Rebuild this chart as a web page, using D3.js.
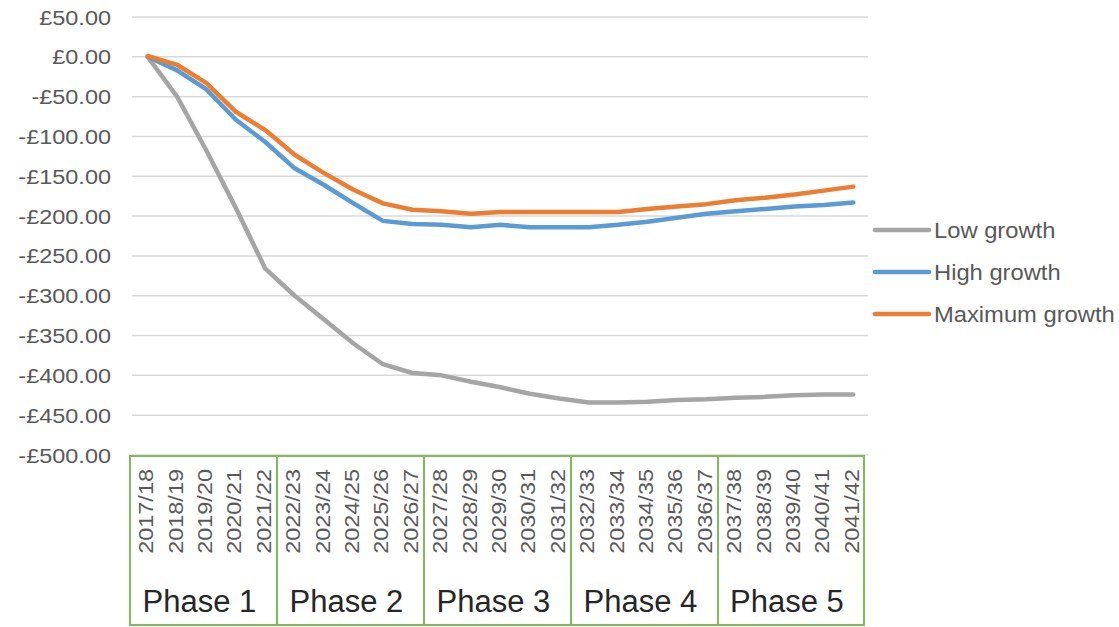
<!DOCTYPE html>
<html>
<head>
<meta charset="utf-8">
<script src="https://cdn.jsdelivr.net/npm/d3@7"></script>
<style>
  body { margin: 0; background: #fff; }
  svg { display: block; font-family: "Liberation Sans", Arial, sans-serif; }
</style>
</head>
<body>
<svg id="chart" width="1119" height="627"></svg>
<script>
var years = ["2017/18","2018/19","2019/20","2020/21","2021/22","2022/23","2023/24","2024/25","2025/26","2026/27",
  "2027/28","2028/29","2029/30","2030/31","2031/32","2032/33","2033/34","2034/35","2035/36","2036/37",
  "2037/38","2038/39","2039/40","2040/41","2041/42"];

var phases = ["Phase 1","Phase 2","Phase 3","Phase 4","Phase 5"];

var lowGrowth = [0, -50, -118, -190, -266, -300, -330, -360, -386, -397,
  -400, -408, -415, -423, -429, -434, -434, -433, -431, -430,
  -428, -427, -425, -424, -424];

var highGrowth = [0, -17, -41, -79, -107, -140, -161, -184, -206, -210,
  -211, -214, -211, -214, -214, -214, -211, -207, -202, -197,
  -194, -191, -188, -186, -183];

var maxGrowth = [1, -10, -33, -69, -92, -123, -146, -167, -184, -192,
  -194, -197, -195, -195, -195, -195, -195, -191, -188, -185,
  -180, -177, -173, -168, -163];

var yTicks = [50, 0, -50, -100, -150, -200, -250, -300, -350, -400, -450, -500];

var seriesNames = ["Low growth", "High growth", "Maximum growth"];
var seriesColors = ["#a5a5a5", "#5b9bd5", "#ed7d31"];

var series = [lowGrowth, highGrowth, maxGrowth];

var stretch = 1.14;   // labels in the original are drawn wide

var svg = d3.select('#chart');

var x = d3.scaleBand().domain(years).range([133, 868]);
var y = d3.scaleLinear().domain([-500, 50]).range([455, 17]);

var fmt = function( v ) {
  var s = '£' + Math.abs(v).toFixed(2);
  return v < 0 ? '-' + s : s;
};

// gridlines
svg.append('g').selectAll('line')
  .data(yTicks)
  .enter()
    .append('line')
    .attr('x1', 132).attr('x2', 868)
    .attr('y1', function(d) { return y(d); })
    .attr('y2', function(d) { return y(d); })
    .attr('stroke', '#d9d9d9')
    .attr('stroke-width', 1.5);

// y labels
svg.append('g').selectAll('text')
  .data(yTicks)
  .enter()
    .append('text')
    .attr('transform', function(d) { return 'translate(111,' + (y(d) + 7.5) + ') scale(' + stretch + ',1)'; })
    .attr('text-anchor', 'end')
    .attr('font-size', 20.6)
    .attr('fill', '#595959')
    .text(fmt);

// phase boxes
var boxEdge = function( i ) { return x(years[i * 5]) - 3; };
var boxRight = function( i ) { return i === 4 ? x.range()[1] - 4 : boxEdge(i + 1); };

var boxes = svg.append('g');
boxes.selectAll('rect')
  .data(phases)
  .enter()
    .append('rect')
    .attr('x', function(d, i) { return boxEdge(i); })
    .attr('y', 456)
    .attr('width', function(d, i) { return boxRight(i) - boxEdge(i); })
    .attr('height', 169)
    .attr('fill', 'none')
    .attr('stroke', '#7dbb5b')
    .attr('stroke-width', 2);

boxes.selectAll('text')
  .data(phases)
  .enter()
    .append('text')
    .attr('x', function(d, i) { return (boxEdge(i) + boxRight(i)) / 2 - 4; })
    .attr('y', 612)
    .attr('text-anchor', 'middle')
    .attr('font-size', 31)
    .attr('fill', '#262626')
    .text(function(d) { return d; });

// category labels
svg.append('g').selectAll('text')
  .data(years)
  .enter()
    .append('text')
    .attr('transform', function(d) {
      return 'translate(' + (x(d) + x.bandwidth() / 2 + 5.5) + ',469) rotate(-90) scale(' + stretch + ',1)';
    })
    .attr('text-anchor', 'end')
    .attr('font-size', 20.6)
    .attr('fill', '#595959')
    .text(function(d) { return d; });

// series lines
var line = d3.line()
  .x(function(d, i) { return x(years[i]) + x.bandwidth() / 2; })
  .y(function(d) { return y(d); });

svg.append('g').selectAll('path')
  .data(series)
  .enter()
    .append('path')
    .attr('d', line)
    .attr('fill', 'none')
    .attr('stroke', function(d, i) { return seriesColors[i]; })
    .attr('stroke-width', 4.5)
    .attr('stroke-linejoin', 'round')
    .attr('stroke-linecap', 'round');

// legend
var legend = svg.append('g').selectAll('g')
  .data(seriesNames)
  .enter()
    .append('g')
    .attr('transform', function(d, i) { return 'translate(0,' + (230 + i * 42) + ')'; });

legend.append('line')
  .attr('x1', 875).attr('x2', 929)
  .attr('stroke', function(d, i) { return seriesColors[i]; })
  .attr('stroke-width', 4.5)
  .attr('stroke-linecap', 'round');

legend.append('text')
  .attr('transform', 'translate(934,7.5) scale(1.08,1)')
  .attr('font-size', 22)
  .attr('fill', '#595959')
  .text(function(d) { return d; });
</script>
</body>
</html>
